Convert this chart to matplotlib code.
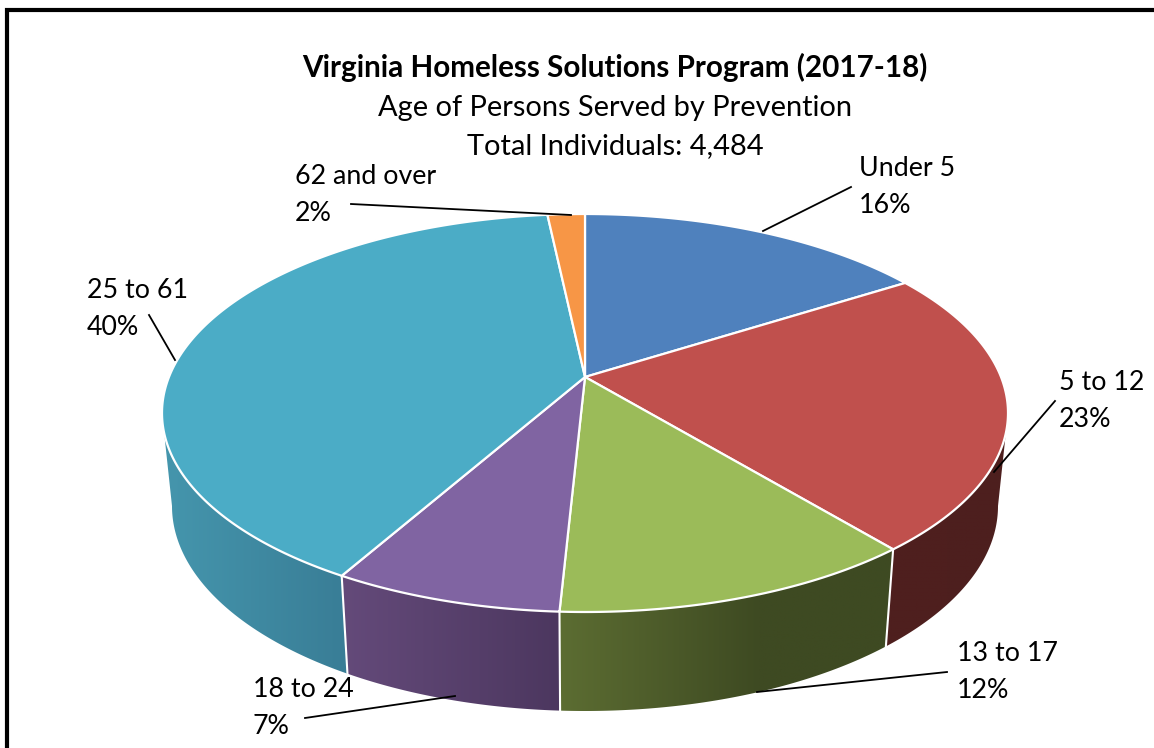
import numpy as np
import matplotlib
matplotlib.use('Agg')
import matplotlib.pyplot as plt
from matplotlib.colors import to_rgb
from matplotlib.patches import Polygon

plt.rcParams['font.family'] = ['Lato', 'DejaVu Sans']

# Slice data, clockwise from 12 o'clock
categories = ['Under 5', '5 to 12', '13 to 17', '18 to 24', '25 to 61', '62 and over']
values = [16.0, 23.0, 11.8, 7.4, 40.1, 1.7]
pct_labels = ['16%', '23%', '12%', '7%', '40%', '2%']
top_colors = ['#4f81bd', '#c0504d', '#9bbb59', '#8064a2', '#4bacc6', '#f79646']
wall_left = ['#4f81bd', '#4f1f1e', '#5c6d32', '#644a7a', '#4596ad', '#f79646']
wall_right = ['#4f81bd', '#4d1f1e', '#3e4a22', '#4c375f', '#397d96', '#f79646']
wall_stop = [1, 1, 0.6, 1, 1, 1]  # where the wall gradient reaches its dark end

W, H = 1154, 748
fig = plt.figure(figsize=(W / 100, H / 100), dpi=100)
ax = fig.add_axes([0, 0, 1, 1])

# pie geometry in pixels
cx = 585
top_cy, top_a, top_b = 413, 423, 199
bot_cy, bot_a, bot_b = 506, 413, 205
tilt = 0.181  # perspective: moves the apex up the ellipse


def rim(theta, cy, a, b):
    # circle seen in perspective, theta clockwise from the top
    u, v = np.sin(theta), np.cos(theta)
    d = 1 + tilt * v
    return cx + a * u * np.sqrt(1 - tilt ** 2) / d, cy - b * (v + tilt) / d


edges = np.cumsum([0] + values) / sum(values) * 2 * np.pi
apex = (cx, top_cy - top_b * tilt)

# side walls, only the front part can be seen (between the widest points of the rim)
wall_from = np.arccos(-tilt)
wall_to = 2 * np.pi - wall_from
for i in range(len(values)):
    lo, hi = max(edges[i], wall_from), min(edges[i + 1], wall_to)
    if hi <= lo:
        continue
    th = np.linspace(lo, hi, 200)
    tx, ty = rim(th, top_cy, top_a, top_b)
    bx, by = rim(th, bot_cy, bot_a, bot_b)
    xs = np.r_[tx, bx[::-1]]
    ys = np.r_[ty, by[::-1]]
    shape = Polygon(np.c_[xs, ys], closed=True, facecolor='none', edgecolor='none')
    ax.add_patch(shape)
    t = np.clip(np.linspace(0, 1, 256) / wall_stop[i], 0, 1)[:, None]
    c1, c2 = np.array(to_rgb(wall_left[i])), np.array(to_rgb(wall_right[i]))
    grad = (c1 + (c2 - c1) * t)[None, :, :]
    img = ax.imshow(grad, extent=[xs.min(), xs.max(), ys.max(), ys.min()],
                    aspect='auto', interpolation='bilinear', zorder=2)
    img.set_clip_path(shape)

# white seams between the walls
for e in edges[1:-1]:
    if wall_from < e < wall_to:
        x0, y0 = rim(e, top_cy, top_a, top_b)
        x1, y1 = rim(e, bot_cy, bot_a, bot_b)
        ax.plot([x0, x1], [y0, y1], color='white', lw=1.5, zorder=3)

# top faces
for i in range(len(values)):
    th = np.linspace(edges[i], edges[i + 1], 200)
    x, y = rim(th, top_cy, top_a, top_b)
    ax.fill(np.r_[apex[0], x], np.r_[apex[1], y], facecolor=top_colors[i],
            edgecolor='white', lw=1.6, joinstyle='round', zorder=4)

# frame, open on the right and bottom
ax.plot([7, 7, W], [H, 9.5, 9.5], color='black', lw=3, solid_joinstyle='miter', zorder=6)

# titles
ax.text(615, 77, 'Virginia Homeless Solutions Program (2017-18)', ha='center',
        va='baseline', fontsize=21.3, fontweight='bold', color='black', zorder=7)
ax.text(615, 116, 'Age of Persons Served by Prevention', ha='center',
        va='baseline', fontsize=20.9, color='black', zorder=7)
ax.text(615, 154, 'Total Individuals: 4,484', ha='center',
        va='baseline', fontsize=20.9, color='black', zorder=7)

# labels and leader lines
label_xy = [(859, 176), (1059, 390), (957, 661), (253, 697), (87, 298), (295, 184)]
leaders = [((763, 231), (851, 187)), ((994, 472), (1055, 401)), ((757, 692), (947, 672)),
           ((455, 696), (305, 718)), ((175, 360), (149, 315)), ((571, 215), (351, 204))]
for i in range(len(categories)):
    lx, ly = label_xy[i]
    ax.text(lx, ly, categories[i], ha='left', va='baseline', fontsize=19.3, color='black', zorder=7)
    ax.text(lx, ly + 36.5, pct_labels[i], ha='left', va='baseline', fontsize=19.3, color='black', zorder=7)
    p, q = leaders[i]
    ax.plot([p[0], q[0]], [p[1], q[1]], color='black', lw=1.3, zorder=5)

ax.set_xlim(0, W)
ax.set_ylim(H, 0)
ax.axis('off')

fig.savefig('out.png', dpi=100)
